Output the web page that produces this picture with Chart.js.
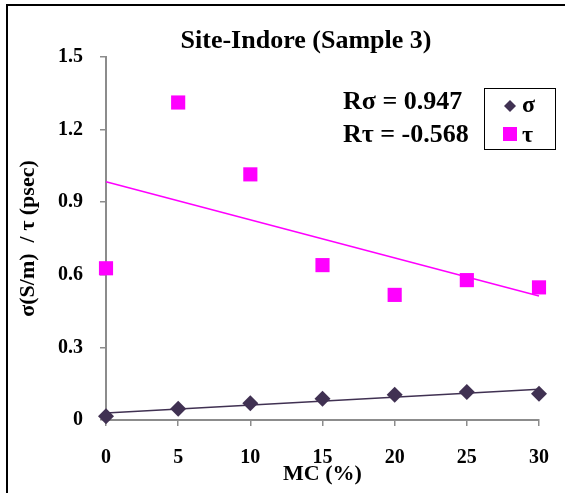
<!DOCTYPE html>
<html>
<head>
<meta charset="utf-8">
<script src="https://cdn.jsdelivr.net/npm/chart.js@4.4.1/dist/chart.umd.min.js"></script>
<style>
  html, body { margin: 0; padding: 0; background: #fff; }
  #wrap { width: 565px; height: 493px; }
</style>
</head>
<body>
<div id="wrap"><canvas id="grafico" width="565" height="493"></canvas></div>
<script>
const mc = [0, 5, 10, 15, 20, 25, 30];
const sigma = [0.015, 0.046, 0.069, 0.088, 0.104, 0.116, 0.108];
const tau = [0.627, 1.312, 1.015, 0.640, 0.517, 0.578, 0.548];
const xTicks = [0, 5, 10, 15, 20, 25, 30];
const yTicks = [0, 0.3, 0.6, 0.9, 1.2, 1.5];
const seriesNames = ['σ', 'τ'];
const rLabels = ['Rσ = 0.947', 'Rτ = -0.568'];
const titulo = 'Site-Indore (Sample 3)';

const corSigma = '#403152';
const corTau = '#ff00ff';
const corEixo = '#8c8c8c';
const fonte = '"Liberation Serif", "Times New Roman", serif';

// linha de tendencia (minimos quadrados) a partir dos dados
function tendencia(xs, ys) {
  const n = xs.length;
  const mx = xs.reduce((a, b) => a + b, 0) / n;
  const my = ys.reduce((a, b) => a + b, 0) / n;
  let sxy = 0, sxx = 0;
  xs.forEach(function (x, i) {
    sxy += (x - mx) * (ys[i] - my);
    sxx += (x - mx) * (x - mx);
  });
  const b = sxy / sxx;
  const a = my - b * mx;
  return [{ x: xs[0], y: a + b * xs[0] }, { x: xs[n - 1], y: a + b * xs[n - 1] }];
}

function pontos(ys) {
  return mc.map((x, i) => ({ x: x, y: ys[i] }));
}

const extras = {
  id: 'extras',
  afterDraw(chart) {
    const ctx = chart.ctx;
    ctx.save();
    // moldura
    ctx.fillStyle = '#000';
    ctx.fillRect(6, 4, 2, 493);
    ctx.fillRect(6, 4, 559, 2);

    ctx.fillStyle = '#000';
    ctx.font = 'bold 26px ' + fonte;
    ctx.textBaseline = 'alphabetic';
    ctx.textAlign = 'center';
    ctx.fillText(titulo, 306, 48);

    ctx.textAlign = 'left';
    ctx.fillText(rLabels[0], 343, 109);
    ctx.fillText(rLabels[1], 343, 142);

    // legenda
    ctx.strokeStyle = '#000';
    ctx.lineWidth = 1;
    ctx.strokeRect(484.5, 88.5, 71, 61);

    ctx.fillStyle = corSigma;
    ctx.beginPath();
    ctx.moveTo(510, 100);
    ctx.lineTo(516, 106);
    ctx.lineTo(510, 112);
    ctx.lineTo(504, 106);
    ctx.closePath();
    ctx.fill();

    ctx.fillStyle = corTau;
    ctx.fillRect(503, 127, 14, 14);

    ctx.fillStyle = '#000';
    ctx.font = 'bold 24px ' + fonte;
    ctx.fillText(seriesNames[0], 522, 112);
    ctx.fillText(seriesNames[1], 522, 142);
    ctx.restore();
  }
};

const ctxGrafico = document.getElementById('grafico');
new Chart(ctxGrafico, {
  type: 'scatter',
  data: {
    datasets: [{
      label: seriesNames[0],
      data: pontos(sigma),
      pointStyle: 'rectRot',
      pointRadius: 8,
      pointHoverRadius: 8,
      backgroundColor: corSigma,
      borderColor: corSigma,
      borderWidth: 0,
      clip: false,
      order: 0
    }, {
      label: seriesNames[1],
      data: pontos(tau),
      pointStyle: 'rect',
      pointRadius: 10,
      pointHoverRadius: 10,
      backgroundColor: corTau,
      borderColor: corTau,
      borderWidth: 0,
      clip: false,
      order: 0
    }, {
      label: 'trend σ',
      data: tendencia(mc, sigma),
      showLine: true,
      pointRadius: 0,
      borderColor: corSigma,
      borderWidth: 1.5,
      clip: false,
      order: 1
    }, {
      label: 'trend τ',
      data: tendencia(mc, tau),
      showLine: true,
      pointRadius: 0,
      borderColor: corTau,
      borderWidth: 1.5,
      clip: false,
      order: 1
    }]
  },
  options: {
    responsive: false,
    animation: false,
    layout: { padding: { left: 0, top: 57, right: 26, bottom: 0 } },
    plugins: {
      legend: { display: false },
      tooltip: { enabled: false },
      title: { display: false }
    },
    scales: {
      x: {
        type: 'linear',
        min: 0,
        max: 30,
        afterBuildTicks: function (s) { s.ticks = xTicks.map(v => ({ value: v })); },
        afterFit: function (s) { s.height = 73; s.paddingLeft = 0; s.paddingRight = 0; },
        ticks: { color: '#000', padding: 20, font: { family: fonte, size: 20, weight: 'bold' } },
        grid: { drawOnChartArea: false, drawTicks: true, tickLength: 6, color: corEixo, lineWidth: 1.5 },
        border: { color: corEixo, width: 2 },
        title: { display: true, text: 'MC (%)', color: '#000', padding: { top: 0, bottom: 5 }, font: { family: fonte, size: 22, weight: 'bold' } }
      },
      y: {
        min: 0,
        max: 1.5,
        afterBuildTicks: function (s) { s.ticks = yTicks.map(v => ({ value: v })); },
        afterFit: function (s) { s.width = 106; },
        ticks: { color: '#000', padding: 17, font: { family: fonte, size: 20, weight: 'bold' } },
        grid: { drawOnChartArea: false, drawTicks: true, tickLength: 6, color: corEixo, lineWidth: 1.5 },
        border: { color: corEixo, width: 2 },
        title: { display: true, text: 'σ(S/m)  / τ (psec)', color: '#000', padding: { top: 15, bottom: 0 }, font: { family: fonte, size: 22, weight: 'bold' } }
      }
    }
  },
  plugins: [extras]
});
</script>
</body>
</html>
